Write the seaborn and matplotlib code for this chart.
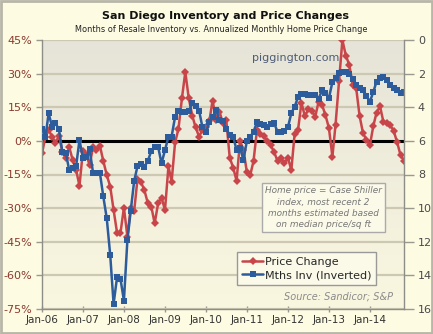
import numpy as np
import pandas as pd
import matplotlib
matplotlib.use("Agg")
import matplotlib.pyplot as plt
import matplotlib.dates as mdates
from matplotlib.colors import LinearSegmentedColormap
from matplotlib.lines import Line2D
from matplotlib.patches import Rectangle
import seaborn as sns

# Monthly series, Jan 2006 through Nov 2014
months = pd.date_range("2006-01-01", periods=107, freq="MS")

# Annualized monthly home price change (%)
price_change = [
    -5.5, 1.9, 4.9, 1.9, -0.8, 2.2, -4.8, -7.7, -2.8, -8.5, -13.0, -20.0,
    -4.3, -6.3, -10.7, -2.8, -4.0, -2.2, -8.9, -15.2, -20.4, -30.8, -41.0, -41.2,
    -29.8, -42.7, -30.0, -31.5, -17.0, -18.4, -21.9, -27.8, -29.3, -36.8, -27.8, -25.3,
    -30.8, -11.3, -18.2, -0.7, 5.3, 19.0, 30.7, 19.0, 11.3, 6.0, 1.9, 4.9,
    6.2, 9.0, 18.0, 9.5, 13.1, 8.0, 9.3, -7.5, -12.0, -17.8, 0.0, -4.0,
    -14.0, -15.0, -9.0, 5.0, 3.0, 2.0, 0.0, -2.0, -5.0, -9.0, -7.5, -10.0,
    -7.5, -13.0, 3.0, 5.0, 17.0, 11.0, 14.0, 13.5, 10.8, 17.5, 16.0, 11.5,
    5.7, -7.0, 7.3, 26.5, 45.0, 38.0, 34.0, 25.0, 23.5, 11.2, 3.4, 0.6,
    -2.0, 6.8, 12.5, 15.5, 8.6, 8.0, 7.1, 4.4, -0.6, -6.4, -8.8,
]

# Months of resale inventory (plotted on an inverted axis)
months_inventory = [
    5.3, 5.75, 4.36, 5.16, 4.96, 5.3, 6.65, 6.7, 7.76, 7.6, 7.5, 5.95,
    7.04, 6.94, 6.5, 7.9, 7.9, 7.9, 9.3, 10.6, 12.8, 15.7, 14.1, 14.2,
    15.5, 11.9, 10.2, 8.4, 7.5, 7.4, 7.54, 7.2, 6.6, 6.35, 6.35, 7.34,
    6.55, 5.75, 5.75, 4.56, 4.23, 4.3, 4.3, 4.23, 3.77, 3.9, 4.2, 5.2,
    5.5, 4.9, 4.6, 4.15, 4.76, 4.8, 5.3, 5.65, 5.75, 6.55, 6.4, 7.14,
    6.0, 5.75, 5.45, 4.9, 5.0, 5.05, 5.16, 5.0, 4.96, 5.45, 5.45, 5.4,
    5.2, 4.35, 3.97, 3.4, 3.23, 3.23, 3.27, 3.25, 3.25, 3.5, 2.98, 3.17,
    3.45, 2.5, 2.28, 1.98, 1.9, 1.9, 2.0, 2.3, 2.65, 2.85, 2.95, 3.33,
    3.67, 3.08, 2.48, 2.28, 2.22, 2.38, 2.65, 2.85, 2.95, 3.15, 3.1,
]

price_ticks = [45, 30, 15, 0, -15, -30, -45, -60, -75]
inventory_ticks = [0, 2, 4, 6, 8, 10, 12, 14, 16]
series_labels = ["Price Change", "Mths Inv (Inverted)"]

RED = "#C8464A"
BLUE = "#2C5C9C"
FIG_BG = "#FDFBE2"

sns.set_theme(style="white")
plt.rcParams["font.family"] = ["DejaVu Sans"]

fig = plt.figure(figsize=(4.33, 3.34), dpi=100, facecolor=FIG_BG)
ax = fig.add_axes([42 / 433, 1 - 309 / 334, 362 / 433, 269 / 334])
ax2 = ax.twinx()

# soft vertical gradient behind the plot
grad = np.linspace(0, 1, 256).reshape(-1, 1)
bg_cmap = LinearSegmentedColormap.from_list("bg", ["#FAF7E0", "#E6E4D8"])
ax.imshow(grad, extent=[0, 1, 0, 1], transform=ax.transAxes, cmap=bg_cmap,
          aspect="auto", origin="lower", zorder=0)

ax.yaxis.grid(True, color="#CCC8B2", lw=1.6)
ax.set_axisbelow(True)
ax.axhline(0, color="black", lw=2.2, zorder=1)

sns.lineplot(x=months, y=price_change, ax=ax, color=RED, marker="D",
             markersize=3.6, markeredgewidth=0, lw=1.8, legend=False, zorder=2)
sns.lineplot(x=months, y=months_inventory, ax=ax2, color=BLUE, marker="s",
             markersize=4.6, markeredgewidth=0, lw=1.8, legend=False, zorder=2)

ax.set_ylim(-75, 45)
ax.set_yticks(price_ticks)
ax.set_yticklabels([f"{v}%" for v in price_ticks])
ax2.set_ylim(16, 0)
ax2.set_yticks(inventory_ticks)
ax2.set_yticklabels([str(v) for v in inventory_ticks])

ax.set_xlim(months[0], months[-1])
ax.xaxis.set_major_locator(mdates.YearLocator())
ax.xaxis.set_major_formatter(mdates.DateFormatter("%b-%y"))

for a in (ax, ax2):
    a.set_xlabel("")
    a.set_ylabel("")

for name, sp in ax.spines.items():
    sp.set_visible(name in ("left", "bottom"))
    sp.set_color("#8E8E88")
    sp.set_linewidth(1.0)
for name, sp in ax2.spines.items():
    sp.set_visible(name == "right")
    sp.set_color("#8E8E88")
    sp.set_linewidth(1.0)

ax.tick_params(axis="y", left=True, length=4, width=1, color="#999990",
               direction="out", labelcolor="#8B3A2E", labelsize=8, pad=3)
ax.tick_params(axis="x", bottom=True, length=5, width=1, color="#999990",
               direction="inout", labelcolor="#333333", labelsize=7.5, pad=2)
ax2.tick_params(axis="y", right=True, length=7, width=1, color="#999990",
                direction="out", labelcolor="#4A4A4A", labelsize=8, pad=3)

# titles
fig.text(0.52, 0.952, "San Diego Inventory and Price Changes", ha="center",
         va="center", fontsize=8.0, fontweight="bold", color="#111111")
fig.text(0.51, 0.913,
         "Months of Resale Inventory vs. Annualized Monthly Home Price Change",
         ha="center", va="center", fontsize=5.9, color="#222222")

ax2.text(0.58, 0.933, "piggington.com", transform=ax.transAxes, ha="left",
         va="center", fontsize=8, color="#4E5C78", zorder=5)

ax2.text(0.778, 0.377,
         "Home price = Case Shiller\nindex, most recent 2\nmonths estimated based\non median price/sq ft",
         transform=ax.transAxes, ha="center", va="center", fontsize=6.4,
         style="italic", color="#777777", linespacing=1.3, zorder=5,
         bbox=dict(boxstyle="square,pad=0.35", fc="#FBF9E8", ec="#AAAAAA", lw=1))

ax2.text(0.970, 0.045, "Source: Sandicor; S&P", transform=ax.transAxes,
         ha="right", va="center", fontsize=7, style="italic", color="#8A8A8A",
         zorder=5)

handles = [
    Line2D([], [], color=RED, marker="D", markersize=3.8, markeredgewidth=0, lw=1.8),
    Line2D([], [], color=BLUE, marker="s", markersize=4.6, markeredgewidth=0, lw=1.8),
]
leg = ax2.legend(handles, series_labels, loc="lower left",
                 bbox_to_anchor=(0.539, 0.089), frameon=True, fancybox=False,
                 edgecolor="#999999", facecolor="#FBF9E8", framealpha=1,
                 fontsize=8, handlelength=1.9, borderpad=0.45,
                 labelspacing=0.3, handletextpad=0.15, borderaxespad=0)
leg.get_frame().set_linewidth(1.0)
leg.set_zorder(6)

fig.patches.append(Rectangle((0.002, 0.003), 0.996, 0.994, transform=fig.transFigure,
                             fill=False, ec="#B8B6A8", lw=2))

fig.savefig("out.png", dpi=100, facecolor=fig.get_facecolor())
